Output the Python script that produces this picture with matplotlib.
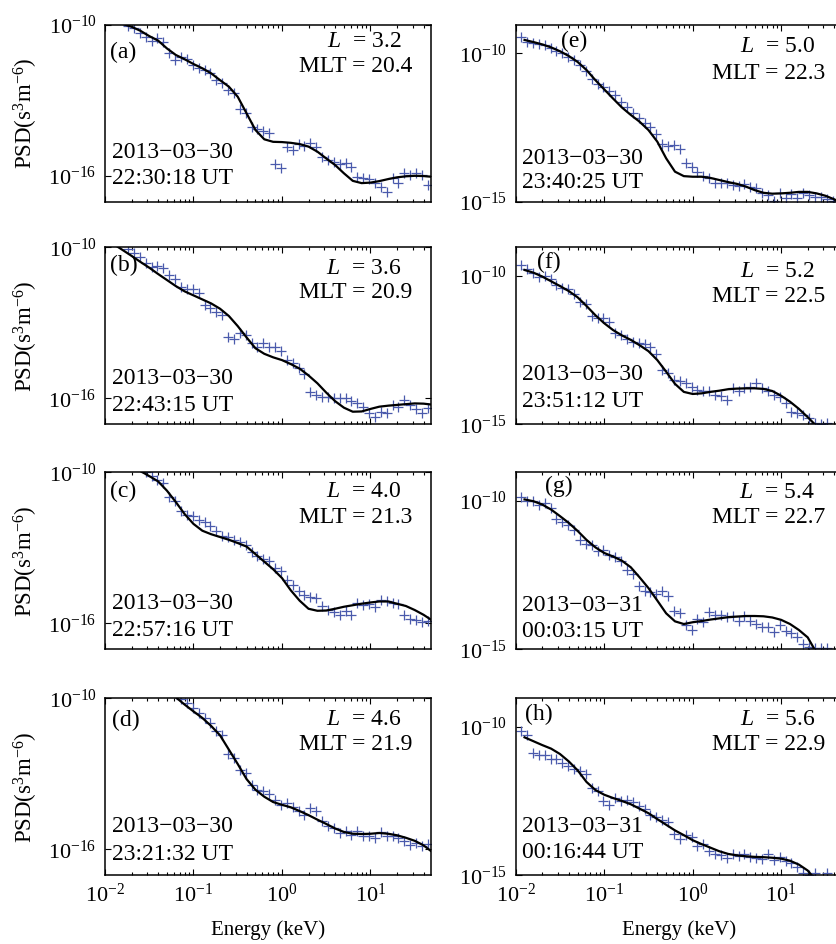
import numpy as np
import matplotlib
matplotlib.use('Agg')
import matplotlib.pyplot as plt
from matplotlib.ticker import NullLocator, FixedLocator, LogLocator

plt.rcParams['font.family'] = ['Liberation Serif', 'DejaVu Serif']
plt.rcParams['mathtext.fontset'] = 'custom'
plt.rcParams['mathtext.rm'] = 'Liberation Serif'
plt.rcParams['mathtext.it'] = 'Liberation Serif:italic'
plt.rcParams['mathtext.bf'] = 'Liberation Serif:bold'

nan = np.nan

# instrument energy channels (keV)
ENERGY_KEV = [0.01153, 0.01344, 0.01566, 0.01824, 0.02126, 0.02477, 0.02886, 0.03363,
              0.03918, 0.04566, 0.05321, 0.06200, 0.07224, 0.08418, 0.09808, 0.1143,
              0.1332, 0.1552, 0.1808, 0.2107, 0.2455, 0.2860, 0.3333, 0.3884, 0.4525,
              0.5272, 0.6144, 0.7159, 0.8341, 0.9719, 1.132, 1.320, 1.538, 1.792, 2.088,
              2.432, 2.834, 3.303, 3.848, 4.484, 5.224, 6.087, 7.093, 8.264, 9.629,
              11.22, 13.07, 15.23, 17.75, 20.68, 24.10, 28.08, 32.72, 38.12, 44.42]

# energies at which the fitted curves are given (keV)
FIT_ENERGY_KEV = [0.01259, 0.01585, 0.01995, 0.02512, 0.03162, 0.03981, 0.05012, 0.0631,
                  0.07943, 0.1, 0.1259, 0.1585, 0.1995, 0.2512, 0.3162, 0.3981, 0.5012,
                  0.631, 0.7943, 1.0, 1.259, 1.585, 1.995, 2.512, 3.162, 3.981, 5.012,
                  6.31, 7.943, 10.0, 12.59, 15.85, 19.95, 25.12, 31.62, 39.81, 50.12]

PANEL_IDS = ['(a)', '(b)', '(c)', '(d)', '(e)', '(f)', '(g)', '(h)']
L_VALUES = ['3.2', '3.6', '4.0', '4.6', '5.0', '5.2', '5.4', '5.6']
MLT_VALUES = ['20.4', '20.9', '21.3', '21.9', '22.3', '22.5', '22.7', '22.9']
DATES = ['2013\u221203\u221230', '2013\u221203\u221230', '2013\u221203\u221230', '2013\u221203\u221230',
         '2013\u221203\u221230', '2013\u221203\u221230', '2013\u221203\u221231', '2013\u221203\u221231']
TIMES = ['22:30:18 UT', '22:43:15 UT', '22:57:16 UT', '23:21:32 UT',
         '23:40:25 UT', '23:51:12 UT', '00:03:15 UT', '00:16:44 UT']

# log10 of measured phase space density (s^3 m^-6)
LOG_PSD_A = [nan, nan, nan,
             -10.04, -10.13, -10.33, -10.46, -10.62, -10.53, -10.66, -11.13, -11.39, -11.26,
             -11.36, -11.59, -11.72, -11.79, -11.89, -12.19, -12.29, -12.58, -12.72, -13.35,
             -13.48, -14.04, -14.15, -14.20, -14.30, -15.52, -15.69, -14.86, -14.97, -14.73,
             -14.81, -14.70, -14.83, -15.23, -15.36, -15.43, -15.52, -15.50, -15.63, -16.03,
             -16.09, -16.13, -16.29, -16.42, -16.62, -16.09, -16.29, -15.89, -15.96, -15.87,
             -15.96, -16.36]
LOG_PSD_B = [nan, nan, nan,
             -10.08, -10.24, -10.40, -10.64, -10.77, -10.74, -10.83, -11.10, -11.27, -11.56,
             -11.67, -11.67, -11.83, -12.29, -12.42, -12.56, -12.69, -13.58, -13.66, -13.42,
             -13.48, -13.81, -13.97, -13.81, -13.95, -13.97, -14.11, -14.48, -14.61, -14.81,
             -15.03, -15.74, -15.87, -15.93, -15.93, -16.00, -16.00, -16.00, -16.09, -16.17,
             -16.36, -16.57, -16.75, -16.53, -16.60, -16.26, -16.36, -16.07, -16.26, -16.44,
             -16.60, -16.40]
LOG_PSD_C = [nan, nan, nan, nan, nan, nan,
             -9.99, -10.16, -10.29, -10.42, -10.99, -11.13, -11.52, -11.68, -11.75, -11.88,
             -11.97, -12.15, -12.34, -12.54, -12.58, -12.68, -12.77, -12.87, -13.17, -13.34,
             -13.43, -13.54, -13.80, -13.93, -14.26, -14.49, -14.70, -14.89, -14.97, -14.99,
             -15.32, -15.46, -15.55, -15.68, -15.52, -15.66, -15.19, -15.28, -15.23, -15.36,
             -15.06, -15.13, -15.19, -15.23, -15.66, -15.81, -15.85, -15.95, -15.89]
LOG_PSD_D = [nan, nan, nan, nan, nan, nan, nan, nan, nan, nan, nan, nan,
             -10.01, -10.19, -10.38, -10.58, -10.78, -10.98, -11.31, -11.44, -12.21, -12.37,
             -12.83, -12.97, -13.43, -13.63, -13.70, -13.80, -14.03, -14.25, -14.16, -14.33,
             -14.46, -14.62, -14.36, -14.46, -14.86, -15.09, -15.15, -15.35, -15.26, -15.42,
             -15.28, -15.48, -15.48, -15.55, -15.31, -15.48, -15.48, -15.55, -15.66, -15.81,
             -15.75, -15.88, -15.79]
LOG_PSD_E = [-9.44, -9.61, -9.64, -9.69, -9.72, -9.83, -9.91, -10.00, -10.11, -10.22,
             -10.39, -10.58, -10.87, -11.03, -11.12, -11.26, -11.40, -11.63, -11.82, -12.02,
             -12.19, -12.35, -12.49, -12.71, -13.05, -13.12, -13.08, -13.23, -13.68, -13.81,
             -13.98, -14.13, -14.20, -14.37, -14.37, -14.35, -14.43, -14.46, -14.39, -14.51,
             -14.54, -14.71, -14.76, -14.96, -14.71, -14.88, -14.73, -14.88, -14.69, -14.76,
             -14.84, -14.82, -14.91, -14.95, nan]
LOG_PSD_F = [-9.64, -9.79, -9.90, -10.03, -10.01, -10.12, -10.31, -10.43, -10.46, -10.62,
             -10.87, -10.95, -11.36, -11.43, -11.43, -11.55, -11.94, -12.00, -12.14, -12.22,
             -12.28, -12.30, -12.39, -12.63, -13.17, -13.28, -13.51, -13.53, -13.62, -13.73,
             -13.85, -13.87, -13.87, -14.01, -14.05, -14.18, -13.79, -13.87, -13.79, -13.73,
             -13.60, -13.79, -13.87, -14.01, -14.09, -14.29, -14.57, -14.63, -14.69, -14.80,
             -14.97, -14.99, -14.94, nan, nan]
LOG_PSD_G = [-9.89, -10.00, -10.00, -10.16, -10.08, -10.25, -10.61, -10.72, -10.81, -10.98,
             -11.31, -11.46, -11.50, -11.70, -11.65, -11.84, -11.91, -12.04, -12.32, -12.47,
             -12.88, -13.03, -13.07, -13.14, -13.05, -13.22, -13.70, -13.78, -14.19, -14.34,
             -13.97, -14.08, -13.74, -13.83, -13.83, -13.92, -13.89, -14.04, -13.89, -14.04,
             -14.15, -14.26, -14.26, -14.42, -14.19, -14.37, -14.45, -14.60, -14.82, -14.93,
             -14.96, -14.96, -14.96, nan, nan]
LOG_PSD_H = [-10.16, -10.27, -10.89, -10.96, -10.94, -11.08, -11.08, -11.22, -11.33, -11.41,
             -11.50, -11.59, -12.06, -12.15, -12.51, -12.65, -12.40, -12.49, -12.46, -12.53,
             -12.68, -12.76, -12.96, -13.05, -13.13, -13.21, -13.61, -13.77, -13.65, -13.72,
             -14.02, -13.95, -14.17, -14.28, -14.33, -14.42, -14.30, -14.36, -14.30, -14.39,
             -14.42, -14.44, -14.30, -14.47, -14.39, -14.51, -14.59, -14.73, -14.92, -14.98,
             -14.92, nan, -14.92, nan, nan]

# log10 of fitted phase space density at FIT_ENERGY_KEV
LOG_FIT_A = [-9.83, -9.96, -10.07, -10.23, -10.44, -10.62, -10.93, -11.19, -11.36, -11.55,
             -11.72, -11.92, -12.19, -12.45, -12.85, -13.51, -14.17, -14.54, -14.64, -14.65,
             -14.68, -14.73, -14.83, -15.03, -15.30, -15.56, -15.89, -16.19, -16.28, -16.26,
             -16.20, -16.12, -16.05, -16.01, -15.99, -16.00, -16.03]
LOG_FIT_B = [-9.88, -10.11, -10.34, -10.58, -10.81, -11.06, -11.30, -11.54, -11.75, -11.91,
             -12.07, -12.23, -12.44, -12.73, -13.13, -13.58, -14.01, -14.23, -14.37, -14.48,
             -14.64, -14.82, -15.09, -15.40, -15.77, -16.11, -16.37, -16.53, -16.52, -16.42,
             -16.33, -16.29, -16.26, -16.23, -16.20, -16.21, -16.25]
LOG_FIT_C = [-9.38, -9.56, -9.76, -9.95, -10.15, -10.36, -10.73, -11.18, -11.66, -12.05,
             -12.32, -12.46, -12.57, -12.68, -12.81, -12.95, -13.25, -13.55, -13.85, -14.20,
             -14.69, -15.10, -15.42, -15.50, -15.49, -15.42, -15.34, -15.28, -15.22, -15.17,
             -15.13, -15.13, -15.22, -15.31, -15.47, -15.66, -15.89]
LOG_FIT_D = [nan, nan, nan, nan, -9.05, -9.34, -9.64, -9.96, -10.25, -10.52,
             -10.78, -11.10, -11.47, -12.04, -12.61, -13.21, -13.63, -13.91, -14.12, -14.23,
             -14.33, -14.48, -14.64, -14.82, -14.99, -15.17, -15.31, -15.38, -15.39, -15.38,
             -15.35, -15.38, -15.44, -15.54, -15.66, -15.84, -16.11]
LOG_FIT_E = [-9.55, -9.62, -9.70, -9.80, -9.93, -10.09, -10.29, -10.56, -10.90, -11.21,
             -11.52, -11.82, -12.07, -12.30, -12.58, -12.97, -13.53, -13.98, -14.13, -14.15,
             -14.15, -14.19, -14.26, -14.33, -14.39, -14.48, -14.60, -14.69, -14.72, -14.71,
             -14.69, -14.66, -14.66, -14.71, -14.79, -14.91, -15.07]
LOG_FIT_F = [-9.81, -9.90, -10.03, -10.19, -10.35, -10.52, -10.73, -11.02, -11.33, -11.60,
             -11.83, -12.01, -12.16, -12.34, -12.54, -12.84, -13.23, -13.64, -13.91, -13.98,
             -13.96, -13.91, -13.87, -13.82, -13.80, -13.79, -13.79, -13.81, -13.88, -14.04,
             -14.24, -14.48, -14.76, -15.06, -15.36, -15.66, -15.96]
LOG_FIT_G = [-9.96, -10.02, -10.13, -10.30, -10.52, -10.75, -11.02, -11.32, -11.57, -11.76,
             -11.88, -12.02, -12.24, -12.58, -12.94, -13.36, -13.79, -14.06, -14.15, -14.09,
             -14.05, -14.00, -13.96, -13.92, -13.90, -13.88, -13.88, -13.89, -13.93, -14.01,
             -14.15, -14.35, -14.60, -15.12, -15.60, -16.10, -16.60]
LOG_FIT_H = [-10.36, -10.49, -10.62, -10.74, -10.92, -11.17, -11.47, -11.86, -12.13, -12.29,
             -12.40, -12.50, -12.61, -12.76, -12.91, -13.11, -13.30, -13.49, -13.65, -13.82,
             -13.95, -14.07, -14.19, -14.28, -14.33, -14.36, -14.38, -14.39, -14.41, -14.44,
             -14.51, -14.64, -14.84, -15.20, -15.60, -16.00, -16.40]

LOG_PSD = [LOG_PSD_A, LOG_PSD_B, LOG_PSD_C, LOG_PSD_D, LOG_PSD_E, LOG_PSD_F, LOG_PSD_G, LOG_PSD_H]
LOG_FIT = [LOG_FIT_A, LOG_FIT_B, LOG_FIT_C, LOG_FIT_D, LOG_FIT_E, LOG_FIT_F, LOG_FIT_G, LOG_FIT_H]

W, H = 836, 944
fig = plt.figure(figsize=(W / 100, H / 100), dpi=100)

col_left = [105, 515.7]
row_top = [25, 247.3, 472.3, 698.3]
ax_w, ax_h = 326, 177

# per-panel text placement (axes fraction x / pixels below axes top)
label_pos = [(0.015, 27), (0.015, 18), (0.015, 19), (0.021, 22),
             (0.139, 16), (0.065, 15), (0.090, 14), (0.029, 16)]
l_below = [16.5, 21, 19, 21, 21, 24, 20, 21]
mlt_below = [41, 45, 45, 46, 48.5, 49, 45, 46]
date_below = [128, 131, 131, 128, 134, 127, 133, 128]
time_below = [154, 158, 158, 156, 158, 154, 159, 154]

marker_color = '#4a5aac'
FS = 17

for k in range(8):
    col, row = k // 4, k % 4
    x0 = col_left[col]
    top = row_top[row]
    ax = fig.add_axes([x0 / W, 1 - (top + ax_h) / H, ax_w / W, ax_h / H])
    ax.plot(ENERGY_KEV, 10 ** np.array(LOG_PSD[k]), ls='none', marker='+',
            color=marker_color, ms=7.5, mew=0.9)
    ax.plot(FIT_ENERGY_KEV, 10 ** np.array(LOG_FIT[k]), '-', color='black', lw=1.6)
    ax.set_xscale('log')
    ax.set_yscale('log')
    ax.set_xlim(1e-2, 10 ** 1.684)
    if col == 0:
        ax.set_ylim(10 ** -17.03, 1e-10)
        ax.yaxis.set_major_locator(FixedLocator([1e-16, 1e-10]))
        ax.set_ylabel(r'PSD(s$^{3}$m$^{-6}$)', fontsize=16.5)
        ax.yaxis.set_label_coords(-0.20, 0.5)
    else:
        ax.set_ylim(1e-15, 10 ** -9.047)
        ax.yaxis.set_major_locator(FixedLocator([1e-15, 1e-10]))
    ax.yaxis.set_minor_locator(NullLocator())
    ax.xaxis.set_major_locator(FixedLocator([1e-2, 1e-1, 1e0, 1e1]))
    ax.xaxis.set_minor_locator(LogLocator(base=10, subs=np.arange(2, 10), numticks=20))
    ax.tick_params(which='both', direction='in', top=True, right=True, labelsize=16, width=0.8)
    ax.tick_params(which='major', length=4.5, pad=6)
    ax.tick_params(which='minor', length=2.5)
    ax.xaxis.set_minor_formatter(matplotlib.ticker.NullFormatter())
    if row < 3:
        ax.tick_params(labelbottom=False)
    else:
        ax.set_xlabel('Energy (keV)', fontsize=15, labelpad=10)
    for s in ax.spines.values():
        s.set_linewidth(1.1)

    lx, lb = label_pos[k]
    ax.text(lx, 1 - lb / ax_h, PANEL_IDS[k], transform=ax.transAxes, fontsize=FS,
            ha='left', va='center')
    if col == 0:
        xl, xm, xd = 0.794, 0.770, 0.021
    else:
        xl, xm, xd = 0.802, 0.777, 0.019
    ax.text(xl, 1 - l_below[k] / ax_h, r'$L$  = ' + L_VALUES[k], transform=ax.transAxes,
            fontsize=FS, ha='center', va='center')
    ax.text(xm, 1 - mlt_below[k] / ax_h, 'MLT = ' + MLT_VALUES[k], transform=ax.transAxes,
            fontsize=FS, ha='center', va='center')
    ax.text(xd, 1 - date_below[k] / ax_h, DATES[k], transform=ax.transAxes,
            fontsize=FS, ha='left', va='center')
    ax.text(xd, 1 - time_below[k] / ax_h, TIMES[k], transform=ax.transAxes,
            fontsize=FS, ha='left', va='center')

fig.savefig('out.png', dpi=100)
